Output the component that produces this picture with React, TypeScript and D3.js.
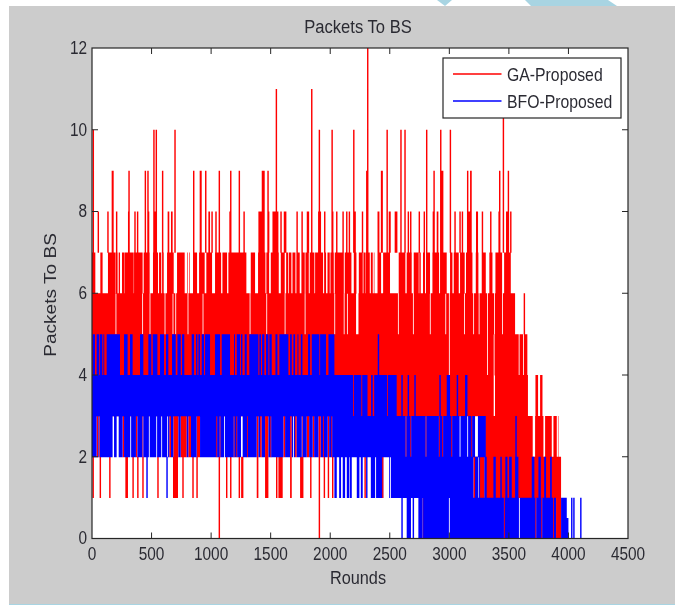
import React from "react";
import * as d3 from "d3";

type Item = number | [number, number];

const xTicks = [0, 500, 1000, 1500, 2000, 2500, 3000, 3500, 4000, 4500];
const yTicks = [0, 2, 4, 6, 8, 10, 12];
const seriesNames = ["GA-Proposed", "BFO-Proposed"];

// GA-Proposed: rounds at which the trace reaches each level
const gaTo12: Item[] = [2315];
const gaTo11: Item[] = [1548, 1845, 3454];
const gaTo10: Item[] = [11, 520, 540, 697, 1909, 2016, 2198, 2478, 2594, 2628, 2810, 2928, 3009];
const gaTo9: Item[] = [[165, 182], 311, 448, 470, 593, 854, [904, 921], 955, 1069, 1165, 1237, [1425, 1450], 1478, [2301, 2315], [2425, 2442], 2872, [2928, 2950], 3154, [3174, 3188], 3423, 3496];
const gaTo8: Item[] = [53, 134, [165, 182], 207, [302, 313], 361, 383, 448, [470, 481], [520, 543], [635, 649], [663, 677], 697, [904, 921], 955, [977, 991], 1008, 1041, 1069, [1153, 1165], 1237, 1277, [1397, 1450], [1478, 1489], [1515, 1565], 1587, [1610, 1632], 1722, 1764, [1803, 1823], 1845, [1898, 1923], 1954, [2016, 2027], 2055, 2108, 2139, 2161, [2198, 2215], 2271, [2301, 2315], [2397, 2413], [2425, 2442], 2478, 2497, 2502, [2541, 2564], 2594, 2628, 2656, 2676, 2748, 2790, 2810, [2860, 2872], [2894, 2908], [2928, 2950], 3009, 3048, 3090, 3110, [3154, 3188], [3224, 3241], 3278, 3348, [3412, 3423], 3454, [3476, 3496], 3516];
const gaGaps7: Item[] = [[28, 70], [89, 134], [196, 199], [215, 224], [235, 252], [271, 274], [350, 353], [425, 434], [484, 512], [554, 563], 585, [602, 630], [686, 714], [778, 798], [803, 815], [820, 848], [882, 899], [946, 960], [1008, 1033], [1084, 1095], [1134, 1145], [1296, 1333], [1369, 1394], [1456, 1464], [1487, 1501], [1568, 1585], [1618, 1630], [1646, 1652], [1674, 1683], [1708, 1716], [1744, 1758], [1786, 1792], [1820, 1828], [1867, 1873], [1940, 1949], [1965, 1977], [1996, 2002], [2030, 2038], [2114, 2122], [2178, 2198], [2220, 2240], [2273, 2279], [2296, 2299], [2332, 2341], [2357, 2366], [2371, 2397], [2427, 2444], [2502, 2575], [2631, 2642], [2684, 2701], [2743, 2748], [2760, 2779], [2796, 2804], [2838, 2858], [2914, 2922], [2978, 3006], [3026, 3037], [3079, 3090], [3129, 3140], [3194, 3222], [3244, 3272], [3306, 3336], [3362, 3387], [3443, 3460]];
const gaGaps6: Item[] = [201, 425, 487, 613, 680, 703, 806, 932, 1327, 1467, 1621, 1789, 2038, 2117, 2144, [2217, 2237], 2572, 2698, 2840, 2970, 3000, 3128, 3204, 3250, 3320, 3380, 3446];
const gaExtra6: Item[] = [3630];
const gaGaps5: Item[] = [3000, 3320, 3376, 3586, 3622];
const gaGaps4: Item[] = [3376, 3380];
const gaExtra4: Item[] = [[3723, 3745], [3762, 3782]];
const gaTo3: Item[] = [[39, 53], [61, 67], [257, 269], [369, 381], [423, 431], [649, 663], [683, 725], [745, 795], [809, 831], [879, 907], 1047, 1075, 1193, 1215, 1305, [1383, 1397], [1411, 1425], [1453, 1481], 1501, [1607, 1621], [1663, 1677], [1705, 1719], [1761, 1769], [1803, 1823], [1853, 1865], [1901, 1921], 1943, [1979, 1991], 2013, 2636, 2676, 2804, 2916, 2944, 3020, 3188, [3300, 3700], [3720, 3790], [3804, 3860], [3874, 3902], [3912, 3916]];
const gaTo2: Item[] = [10, 70, 150, [280, 302], 345, 385, 428, 554, [680, 722], 764, 848, 882, 1069, 1131, 1165, 1237, [1252, 1271], [1383, 1397], [1453, 1481], [1545, 1557], [1565, 1601], [1663, 1677], [1747, 1775], 1837, 1909, 1951, 1985, 2021, 2293, 2441, [3202, 3241], [3252, 3296], [3304, 3938]];
const gaTo1: Item[] = [1069, 1909, 2782, 3462, 3726, 3776, 3874, [3896, 3938]];

// BFO-Proposed: rounds at which the trace reaches each level
const bfoGaps5: Item[] = [[-3, 5], [25, 39], [61, 67], [87, 95], [103, 123], [235, 269], [299, 319], [341, 403], [431, 473], [498, 510], [549, 571], [605, 621], [641, 672], [703, 717], [745, 756], [775, 837], [857, 873], [885, 893], [907, 921], [941, 949], [991, 1033], [1075, 1089], [1159, 1193], [1201, 1215], [1243, 1251], [1263, 1282], [1299, 1321], [1397, 1405], [1419, 1428], [1447, 1461], [1481, 1489], [1509, 1540], [1557, 1573], [1649, 1663], [1677, 1691], [1705, 1725], [1733, 1753], [1767, 1814], [1831, 1845], [1909, 1915], [1965, 1985]];
const bfoExtra5: Item[] = [2405];
const bfoGaps4: Item[] = [2195, 2265, [2313, 2343], [2357, 2369], 2481];
const bfoExtra4: Item[] = [2603, 2656, 2712, 2922, [2978, 3006], 3068, [3132, 3152]];
const bfoWhite3: Item[] = [[173, 185], [207, 224], 325, 481, 543, 585, 635, 1112, [1251, 1265], 1691, 3090, 3154, [3216, 3240]];
const bfoExtra3: Item[] = [3300, 3560];
const bfoTo2: Item[] = [462, 630, [2035, 2055], [2075, 2091], [2105, 2125], [2139, 2160], [2165, 2181], [2223, 2245], [2257, 2273], [2301, 2313], [2341, 2377], [2385, 2436], [2446, 2447], [2495, 2503]];
const bfoGaps2: Item[] = [[3202, 3216], [3244, 3250], [3258, 3294], [3314, 3370], [3390, 3428], [3440, 3470], [3488, 3502], [3524, 3552], [3580, 3692], [3714, 3748], [3768, 3796], [3812, 3846], [3860, 3938]];
const bfoTo1: Item[] = [2603, [2642, 2678], [2692, 2704], [2740, 2776], [3938, 3986], 4028, 4046, 4104];
const bfoGaps1: Item[] = [3000, 3462, 3588, 3726, 3776, 3874];
const bfoHalf: Item[] = [[3986, 4000]];

const x = d3.scaleLinear().domain([0, 4500]).range([92, 628]);
const y = d3.scaleLinear().domain([0, 12]).range([538.5, 48]);

const SPIKE = 6;
const GAP = 3.5;

const norm = (it: Item[], w: number = SPIKE): [number, number][] =>
  it.map((d) => (typeof d === "number" ? [d - w, d + w] : [d[0], d[1]]) as [number, number]);

function subtract(a: number, b: number, gaps: Item[]): [number, number][] {
  const sorted = norm(gaps, GAP).sort((p, q) => p[0] - q[0]);
  const out: [number, number][] = [];
  let cur = a;
  for (const [g0, g1] of sorted) {
    if (g1 <= cur) continue;
    if (g0 >= b) break;
    if (g0 > cur) out.push([cur, g0]);
    cur = Math.max(cur, g1);
  }
  if (cur < b) out.push([cur, b]);
  return out;
}

function bands(list: { lo: number; hi: number; runs: [number, number][] }[]): string {
  const p = d3.path();
  for (const { lo, hi, runs } of list) {
    for (const [a, b] of runs) {
      p.rect(x(a), y(hi), x(b) - x(a), y(lo) - y(hi) + 0.4);
    }
  }
  return p.toString();
}

const gaPath = bands([
  { lo: 7, hi: 12, runs: norm(gaTo12) },
  { lo: 7, hi: 11, runs: norm(gaTo11) },
  { lo: 7, hi: 10, runs: norm(gaTo10) },
  { lo: 7, hi: 9, runs: norm(gaTo9) },
  { lo: 7, hi: 8, runs: norm(gaTo8) },
  { lo: 6, hi: 7, runs: subtract(0, 3516, gaGaps7) },
  { lo: 5, hi: 6, runs: [...subtract(0, 3552, gaGaps6), ...norm(gaExtra6)] },
  { lo: 4, hi: 5, runs: subtract(0, 3655, gaGaps5) },
  { lo: 3, hi: 4, runs: [...subtract(0, 3660, gaGaps4), ...norm(gaExtra4)] },
  { lo: 2, hi: 3, runs: norm(gaTo3) },
  { lo: 1, hi: 2, runs: norm(gaTo2) },
  { lo: 0, hi: 1, runs: norm(gaTo1) },
]);

const bfoPath = bands([
  { lo: 4, hi: 5, runs: [...subtract(0, 2035, bfoGaps5), ...norm(bfoExtra5)] },
  { lo: 3, hi: 4, runs: [...subtract(0, 2558, bfoGaps4), ...norm(bfoExtra4)] },
  { lo: 2, hi: 3, runs: [...subtract(0, 3300, [...gaTo3, ...bfoWhite3]), ...norm(bfoExtra3)] },
  { lo: 1, hi: 2, runs: [...norm(bfoTo2), ...subtract(2510, 3938, bfoGaps2)] },
  { lo: 0, hi: 1, runs: [...norm(bfoTo1), ...subtract(2780, 3896, bfoGaps1)] },
  { lo: 0, hi: 0.5, runs: norm(bfoHalf) },
]);

const FONT = "'Liberation Sans', Arial, sans-serif";
const INK = "#2b2b33";
const SY = 1.15;

function Label(props: { x: number; y: number; size: number; anchor?: string; rot?: boolean; children: React.ReactNode }) {
  const { x: px, y: py, size, anchor = "middle", rot, children } = props;
  return (
    <text
      transform={`translate(${px},${py}) scale(1,${SY})${rot ? " rotate(-90)" : ""}`}
      fontFamily={FONT}
      fontSize={size}
      fill={INK}
      textAnchor={anchor}
      dominantBaseline="central"
      filter="url(#soft)"
    >
      {children}
    </text>
  );
}

export default function App() {
  const x0 = x.range()[0], x1 = x.range()[1], y0 = y.range()[0], y1 = y.range()[1];
  return (
    <svg width={675} height={605} style={{ position: "absolute", left: 0, top: 0, display: "block" }}>
      <defs>
        <filter id="soft" x="-10%" y="-30%" width="120%" height="160%">
          <feGaussianBlur stdDeviation={0.3} />
        </filter>
      </defs>
      <rect width={675} height={605} fill="#ffffff" />
      <polygon points="437,0 452,0 445,6" fill="#a8d4e2" />
      <polygon points="525,0 608,0 617,6 531,6" fill="#a8d4e2" />
      <rect x={9} y={6} width={666} height={598} fill="#cccccc" />
      <rect x={9} y={604} width={666} height={1} fill="#a8d4e2" />
      <rect x={x0} y={y1} width={x1 - x0} height={y0 - y1} fill="#ffffff" />
      <path d={gaPath} fill="#ff0000" />
      <path d={bfoPath} fill="#0000ff" />
      <g stroke="#262626" strokeWidth={1}>
        {xTicks.slice(1, -1).map((t) => (
          <g key={t}>
            <line x1={x(t)} x2={x(t)} y1={y0} y2={y0 - 6} />
            <line x1={x(t)} x2={x(t)} y1={y1} y2={y1 + 6} />
          </g>
        ))}
        {yTicks.slice(1, -1).map((t) => (
          <g key={t}>
            <line x1={x0} x2={x0 + 6} y1={y(t)} y2={y(t)} />
            <line x1={x1} x2={x1 - 6} y1={y(t)} y2={y(t)} />
          </g>
        ))}
      </g>
      <rect x={x0} y={y1} width={x1 - x0} height={y0 - y1} fill="none" stroke="#262626" strokeWidth={1.2} />
      {xTicks.map((t) => (
        <Label key={t} x={x(t)} y={554} size={15.4}>{t}</Label>
      ))}
      {yTicks.map((t) => (
        <Label key={t} x={87} y={y(t)} size={15.4} anchor="end">{t}</Label>
      ))}
      <Label x={358} y={27} size={16.6}>Packets To BS</Label>
      <Label x={358} y={578} size={16.3}>Rounds</Label>
      <Label x={50} y={295} size={16.6} rot>Packets To BS</Label>
      <rect x={443} y={58} width={178} height={60} fill="#ffffff" stroke="#262626" strokeWidth={1.2} />
      <line x1={453} x2={501.5} y1={74} y2={74} stroke="#ff0000" strokeWidth={1.4} />
      <line x1={453} x2={501.5} y1={101} y2={101} stroke="#0000ff" strokeWidth={1.4} />
      <Label x={507} y={75} size={15.8} anchor="start">{seriesNames[0]}</Label>
      <Label x={507} y={102} size={15.8} anchor="start">{seriesNames[1]}</Label>
    </svg>
  );
}
